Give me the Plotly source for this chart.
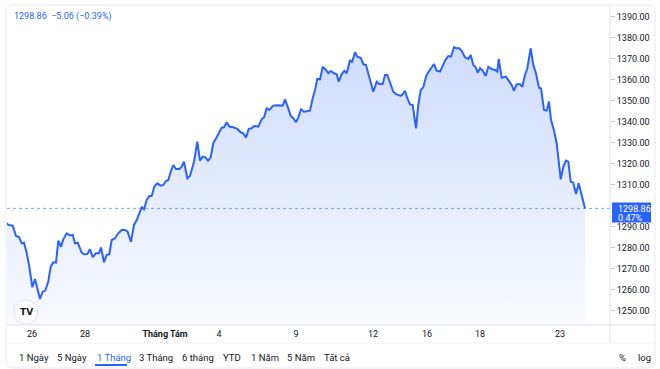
import plotly.graph_objects as go

# ---- data ----
t = [0, 2.3, 6.7, 10, 13, 15.7, 18, 20.7, 23.3, 26.3, 29, 31.3, 34, 36.7, 39.3, 42.3, 44.7, 47.3, 50,
     52.3, 55, 57.3, 60.7, 64, 66.7, 69, 71.7, 75.7, 78, 81.3, 84, 86.7, 90, 93, 95, 98, 100.7, 103.3,
     105.7, 109, 112.3, 115.7, 119, 121.5, 125, 128, 130.7, 133.3, 135.7, 138, 140.7, 143.3, 145.7,
     148.3, 151.3, 154.7, 157.3, 160, 162.3, 164.7, 167.3, 170, 173.3, 175.7, 178, 181.3, 184, 188,
     191.3, 194, 196.7, 199.3, 202, 204.7, 207.3, 210.7, 213.3, 215.7, 218, 220.7, 223.3, 227.3, 231.3,
     234.7, 237.3, 240, 242.7, 245.7, 248, 252.3, 255.7, 258, 260.7, 263.3, 267.3, 271.3, 276.7, 279,
     282.3, 284.7, 287.3, 290, 292.3, 295, 298, 302.3, 304, 306.7, 309, 311.3, 314, 316.7, 320, 322.3,
     324.7, 328, 330.7, 332.7, 335.7, 338.3, 340.7, 344, 346, 349, 351.3, 354.7, 357.3, 360, 363.3,
     367.3, 370.7, 373.3, 376.7, 379, 381.3, 384, 387.3, 390, 392.3, 394.7, 396.7, 399, 401.3, 404,
     406.7, 410, 412.3, 414.7, 417.3, 420, 422.3, 425.7, 428, 430.7, 434, 436.7, 439, 442.3, 445, 448,
     450.7, 453.3, 455.7, 459, 462.3, 464.7, 467.3, 469.7, 471.7, 474, 476.7, 479.7, 482.3, 485.7,
     489, 491.3, 492.7, 495.7, 500, 503.3, 505.7, 508, 510.7, 514, 516.3, 519, 521.3, 524.7, 527.3,
     529.7, 533, 535, 538, 540.7, 543, 545, 548, 550.7, 552.3, 554.7, 557.3, 560, 562.3, 564.7, 567.3,
     570, 572.7, 575.7, 579]
price = [1292.2, 1291.0, 1290.6, 1285.7, 1285.2, 1282.2, 1282.5, 1277.6, 1271.1, 1261.3, 1265.2,
         1261.3, 1255.7, 1259.2, 1259.7, 1264.0, 1271.1, 1273.2, 1273.0, 1283.5, 1280.6, 1284.1,
         1287.0, 1286.0, 1286.2, 1282.2, 1282.5, 1277.8, 1277.0, 1277.1, 1279.4, 1275.6, 1277.5,
         1277.5, 1280.3, 1273.2, 1276.7, 1277.0, 1283.8, 1284.6, 1287.0, 1288.6, 1288.6, 1287.9,
         1282.9, 1291.0, 1293.3, 1296.5, 1299.4, 1298.4, 1302.9, 1304.8, 1304.8, 1309.2, 1310.8,
         1309.7, 1310.0, 1311.9, 1312.4, 1316.3, 1319.5, 1317.6, 1317.6, 1318.7, 1321.1, 1313.2,
         1314.3, 1321.1, 1330.6, 1321.6, 1323.5, 1323.2, 1321.6, 1323.2, 1329.9, 1332.7, 1335.1,
         1337.3, 1337.5, 1339.9, 1337.8, 1337.5, 1336.7, 1335.1, 1334.6, 1332.5, 1336.7, 1337.0,
         1338.1, 1337.8, 1341.4, 1342.2, 1346.5, 1345.7, 1347.8, 1348.0, 1347.8, 1350.8, 1346.5,
         1342.9, 1341.8, 1339.9, 1342.2, 1346.0, 1344.9, 1345.2, 1345.4, 1351.3, 1355.2, 1360.5,
         1360.3, 1366.3, 1364.8, 1363.2, 1364.3, 1363.2, 1362.7, 1359.2, 1362.7, 1364.4, 1363.2,
         1369.5, 1368.4, 1373.2, 1371.1, 1370.6, 1367.5, 1367.1, 1361.1, 1354.4, 1359.2, 1358.1,
         1358.1, 1362.4, 1362.4, 1358.8, 1354.4, 1353.3, 1352.9, 1352.4, 1353.2, 1354.9, 1351.3,
         1348.4, 1348.1, 1337.0, 1348.1, 1355.2, 1356.5, 1361.6, 1363.7, 1366.3, 1367.6, 1364.4,
         1364.0, 1366.7, 1369.2, 1371.4, 1371.1, 1375.6, 1375.1, 1375.1, 1373.8, 1370.8, 1370.0,
         1371.9, 1367.1, 1366.0, 1363.5, 1365.6, 1364.4, 1361.9, 1366.3, 1365.2, 1364.8, 1364.0,
         1370.0, 1361.1, 1361.6, 1359.2, 1357.6, 1354.9, 1358.0, 1358.0, 1356.8, 1362.4, 1365.6,
         1375.1, 1367.1, 1363.7, 1356.3, 1356.0, 1345.7, 1345.4, 1349.7, 1341.0, 1335.9, 1329.9,
         1321.9, 1312.7, 1318.7, 1321.6, 1321.1, 1311.6, 1311.1, 1305.7, 1310.8, 1304.4, 1298.86]

x_tick_pos = [26, 79, 159, 213, 290, 367, 421, 474, 554]
x_tick_text = ["26", "28", "<b>Tháng Tám</b>", "4", "9", "12", "16", "18", "23"]
# 1300.00 is hidden behind the last-price label in the reference
y_ticks = [1250, 1260, 1270, 1280, 1290, 1310, 1320, 1330, 1340, 1350, 1360, 1370, 1380, 1390]

last_price = 1298.86
change = -5.06
change_pct = -0.39
label_pct = "0.47%"
ranges = ["1 Ngày", "5 Ngày", "1 Tháng", "3 Tháng", "6 tháng", "YTD", "1 Năm", "5 Năm", "Tất cả"]
active_range = "1 Tháng"

# ---- layout geometry (pixels) ----
W, H = 660, 369
L, R, T, B = 7, 610, 5, 325
PW, PH = R - L, B - T
BLUE = "#2962ff"
TXT = "#131722"
GRID = "#e0e3eb"
FONT = "Roboto"


def px(x):
    return (x - L) / PW


def py(y):
    return (B - y) / PH


fig = go.Figure()
fig.add_trace(go.Scatter(
    x=t, y=price, mode="lines",
    line=dict(color=BLUE, width=2),
    fill="tozeroy",
    fillgradient=dict(type="vertical", start=1243, stop=1376,
                      colorscale=[[0, "rgba(41,98,255,0.03)"], [1, "rgba(41,98,255,0.22)"]]),
    hoverinfo="skip", showlegend=False,
))

shapes = []
# dotted last price line
shapes.append(dict(type="line", xref="paper", yref="y", x0=0, x1=1, y0=last_price, y1=last_price,
                   line=dict(color="rgba(41,98,255,0.6)", width=1, dash="dot"), layer="above"))
# card border (rounded)
r = 8
x0, x1, y0, y1 = 6, 655, 5, 368
path = (f"M {px(x0+r)},{py(y0)} L {px(x1-r)},{py(y0)} Q {px(x1)},{py(y0)} {px(x1)},{py(y0+r)} "
        f"L {px(x1)},{py(y1-r)} Q {px(x1)},{py(y1)} {px(x1-r)},{py(y1)} "
        f"L {px(x0+r)},{py(y1)} Q {px(x0)},{py(y1)} {px(x0)},{py(y1-r)} "
        f"L {px(x0)},{py(y0+r)} Q {px(x0)},{py(y0)} {px(x0+r)},{py(y0)} Z")
shapes.append(dict(type="path", xref="paper", yref="paper", path=path,
                   line=dict(color="#e9ebf0", width=1), layer="below"))
# time axis line, price axis separator, toolbar separator
shapes.append(dict(type="line", xref="paper", yref="paper", x0=px(7), x1=px(655), y0=py(325), y1=py(325),
                   line=dict(color=GRID, width=1)))
shapes.append(dict(type="line", xref="paper", yref="paper", x0=px(610), x1=px(610), y0=py(5), y1=py(343),
                   line=dict(color=GRID, width=1)))
shapes.append(dict(type="line", xref="paper", yref="paper", x0=px(7), x1=px(655), y0=py(343), y1=py(343),
                   line=dict(color="#f0f3fa", width=1)))
# price label box
shapes.append(dict(type="rect", xref="paper", yref="y", xsizemode="pixel", ysizemode="pixel",
                   xanchor=1, yanchor=last_price, x0=2, x1=41, y0=6, y1=-14,
                   fillcolor=BLUE, line=dict(width=0), layer="above"))
# logo circle
shapes.append(dict(type="circle", xref="paper", yref="paper", x0=px(14), x1=px(38), y0=py(300), y1=py(324),
                   fillcolor="white", line=dict(color="#e0e3eb", width=1), layer="above"))
# active range underline
shapes.append(dict(type="line", xref="paper", yref="paper", x0=px(95), x1=px(127), y0=py(365), y1=py(365),
                   line=dict(color=BLUE, width=2)))

ann = []
ann.append(dict(xref="paper", yref="paper", x=px(12), y=py(17), xanchor="left", yanchor="middle",
                text=f"{last_price:.2f}  {change:.2f} ({change_pct:.2f}%)".replace("-", "−"),
                showarrow=False, font=dict(family=FONT, size=9, color=BLUE)))
ann.append(dict(xref="paper", yref="y", x=1, y=last_price, xanchor="left", yanchor="middle",
                xshift=6, yshift=-0.5, text=f"{last_price:.2f}", showarrow=False,
                font=dict(family=FONT, size=9, color="white")))
ann.append(dict(xref="paper", yref="y", x=1, y=last_price, xanchor="left", yanchor="middle",
                xshift=6, yshift=-9.5, text=label_pct, showarrow=False,
                font=dict(family=FONT, size=9, color="white")))
ann.append(dict(xref="paper", yref="paper", x=px(26), y=py(312), xanchor="center", yanchor="middle",
                text="<b>TV</b>", showarrow=False, font=dict(family="DejaVu Sans", size=9, color=TXT)))

# toolbar
tb_x = [17, 55, 95, 137, 180, 221, 249, 285, 322]
for lab, xx in zip(ranges, tb_x):
    ann.append(dict(xref="paper", yref="paper", x=px(xx), y=py(357), xanchor="left", yanchor="middle",
                    text=lab, showarrow=False,
                    font=dict(family=FONT, size=9.5, color=BLUE if lab == active_range else TXT)))
ann.append(dict(xref="paper", yref="paper", x=px(617), y=py(357), xanchor="left", yanchor="middle",
                text="%", showarrow=False, font=dict(family=FONT, size=9.5, color=TXT)))
ann.append(dict(xref="paper", yref="paper", x=px(636), y=py(357), xanchor="left", yanchor="middle",
                text="log", showarrow=False, font=dict(family=FONT, size=9.5, color=TXT)))

fig.update_layout(
    width=W, height=H,
    margin=dict(l=L, r=W - R, t=T, b=H - B),
    paper_bgcolor="white", plot_bgcolor="white",
    shapes=shapes, annotations=ann,
    xaxis=dict(range=[1, 604], tickmode="array", tickvals=x_tick_pos, ticktext=x_tick_text,
               showgrid=False, zeroline=False, showline=False, ticks="",
               tickfont=dict(family=FONT, size=9, color=TXT), ticklabelstandoff=2),
    yaxis=dict(range=[1243.33, 1395.71], side="right", tickmode="array", tickvals=y_ticks,
               tickformat=".2f", showgrid=False, zeroline=False, showline=False,
               ticks="outside", ticklen=4, tickcolor="#c8cbd3",
               tickfont=dict(family=FONT, size=9, color=TXT)),
    hovermode=False,
)

fig.write_html("out.html", config={"displayModeBar": False},
               post_script="document.body.style.margin='0';")
